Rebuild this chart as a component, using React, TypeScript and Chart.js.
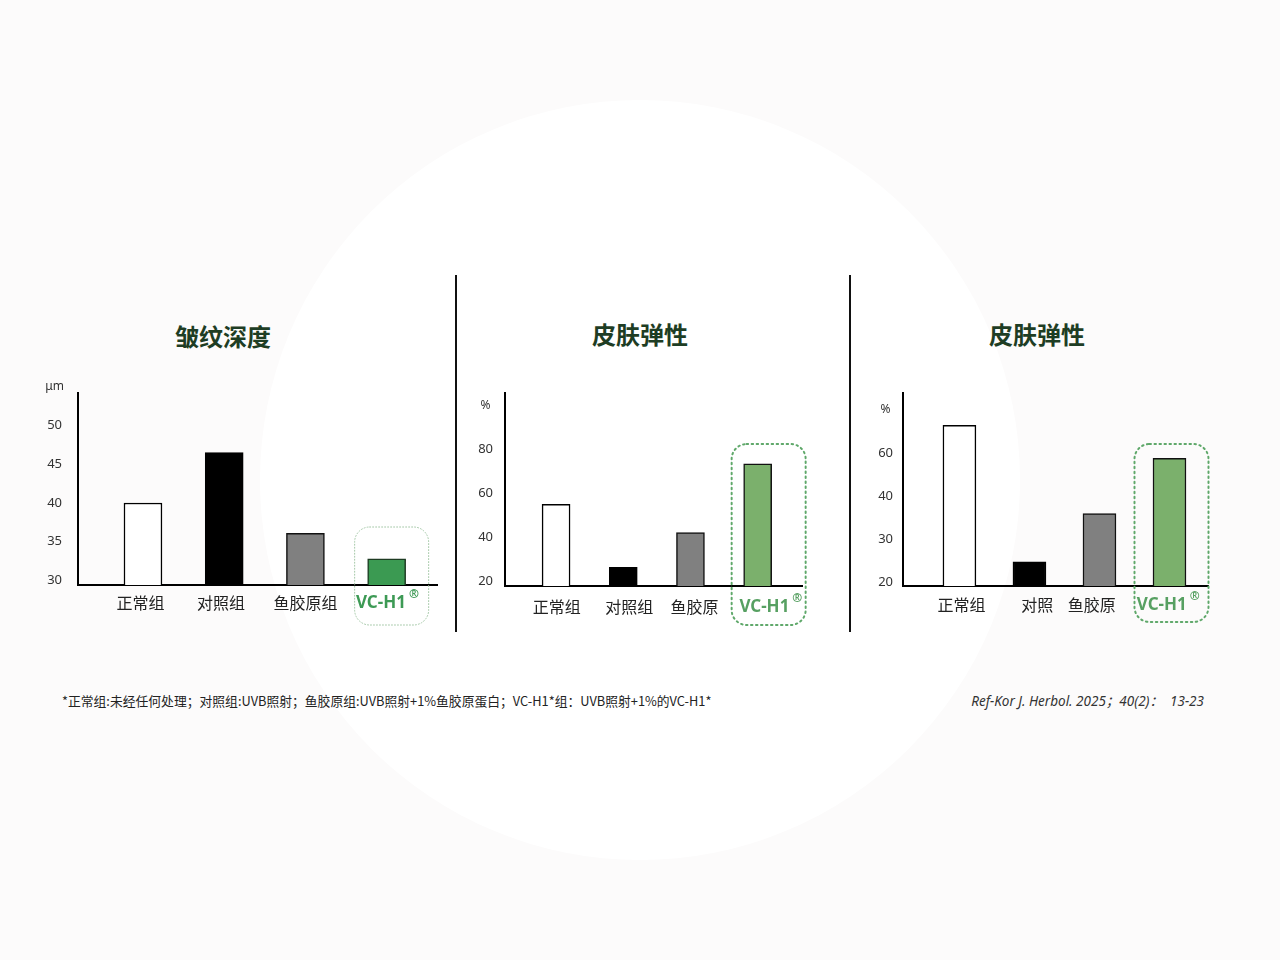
import React, { useEffect, useRef } from 'react';
import { Chart, registerables } from 'chart.js';

Chart.register(...registerables);

// ---- data ----
const groupsWrinkle = ['正常组', '对照组', '鱼胶原组', 'VC-H1'];
const groupsElasticA = ['正常组', '对照组', '鱼胶原', 'VC-H1'];
const groupsElasticB = ['正常组', '对照', '鱼胶原', 'VC-H1'];

const wrinkleDepth = [40, 46.5, 36.1, 32.8];
const elasticityA = [55, 26.4, 42.2, 73.4];
const elasticityB = [72.8, 24.7, 35.9, 57.4];

const ticksWrinkle = [30, 35, 40, 45, 50];
const ticksElasticA = [20, 40, 60, 80];
// the third panel labels equally spaced ticks 20/30/40/60
const ticksElasticB = [20, 30, 40, 60];

const LATIN = '"Noto Sans", "Noto Sans CJK SC", sans-serif';
const CJK = '"Noto Sans CJK SC", "Noto Sans", sans-serif';

// place a value on an axis whose ticks sit one step apart
function toAxis(v: number, ticks: number[]): number {
  for (let i = 0; i < ticks.length - 1; i++) {
    if (v <= ticks[i + 1]) return i + (v - ticks[i]) / (ticks[i + 1] - ticks[i]);
  }
  const n = ticks.length - 1;
  return n + (v - ticks[n]) / (ticks[n] - ticks[n - 1]);
}

const decorPlugin = {
  id: 'decor',
  afterDraw(chart: any, _args: any, opts: any) {
    const { ctx, chartArea, scales } = chart;
    const x = scales.x;
    const y = scales.y;
    ctx.save();

    // unit label above the ticks
    ctx.font = `13px ${LATIN}`;
    const w = Math.max(...opts.ticks.map((t: number) => ctx.measureText(String(t)).width));
    ctx.font = `12px ${LATIN}`;
    ctx.fillStyle = '#333';
    ctx.textAlign = 'center';
    ctx.textBaseline = 'middle';
    ctx.fillText(opts.unit, chartArea.left - opts.yPad - w / 2, y.getPixelForValue(opts.ticks.length));

    // registered mark after the last label
    const last = opts.count - 1;
    const px = x.getPixelForValue(last);
    const lx = x.getPixelForValue(last + opts.labelShift[last]);
    ctx.font = `bold 17px ${LATIN}`;
    const lw = ctx.measureText('VC-H1').width;
    const labelY = chartArea.bottom + opts.xPad + 10;
    ctx.font = `bold 12px ${LATIN}`;
    ctx.fillStyle = opts.green;
    ctx.textAlign = 'left';
    ctx.fillText('®', lx + lw / 2 + 3, labelY - 8);

    // dotted highlight box
    const b = opts.box;
    const l = px + b.left;
    const r = px + b.right;
    const t = chartArea.top + b.top;
    const btm = chartArea.bottom + b.bottom;
    ctx.strokeStyle = b.color;
    ctx.lineWidth = b.width;
    ctx.lineCap = 'round';
    ctx.setLineDash(b.dash);
    ctx.beginPath();
    ctx.roundRect(l, t, r - l, btm - t, 15);
    ctx.stroke();
    ctx.restore();
  },
};

interface PanelProps {
  categories: string[];
  values: number[];
  ticks: number[];
  unit: string;
  colors: string[];
  edge: string[];
  green: string;
  yRange: [number, number];
  xRange: [number, number];
  labelShift: number[];
  barThickness: number;
  yWidth: number;
  yPad: number;
  xPad: number;
  xHeight: number;
  box: { left: number; right: number; top: number; bottom: number; color: string; width: number; dash: number[] };
  frame: { left: number; top: number; width: number; height: number };
}

const BarPanel: React.FC<PanelProps> = (p) => {
  const chartRef = useRef<HTMLCanvasElement>(null);
  const chartInstance = useRef<Chart | null>(null);

  useEffect(() => {
    if (!chartRef.current) return;
    if (chartInstance.current) chartInstance.current.destroy();

    chartInstance.current = new Chart(chartRef.current, {
      type: 'bar',
      data: {
        datasets: [
          {
            data: p.values.map((v, i) => ({ x: i, y: toAxis(v, p.ticks) })),
            base: p.yRange[0],
            backgroundColor: p.colors,
            borderColor: p.edge,
            borderWidth: 1.5,
            borderSkipped: 'bottom',
            barThickness: p.barThickness,
          },
        ],
      },
      options: {
        animation: false,
        responsive: true,
        maintainAspectRatio: false,
        layout: { padding: { top: 13, right: 8, left: 0, bottom: 0 } },
        scales: {
          x: {
            type: 'linear',
            min: p.xRange[0],
            max: p.xRange[1],
            offset: false,
            grid: { display: false, drawTicks: false },
            border: { display: true, color: '#000', width: 2 },
            afterBuildTicks: (s: any) => {
              s.ticks = p.categories.map((_, i) => ({ value: i + p.labelShift[i] }));
            },
            afterFit: (s: any) => {
              s.height = p.xHeight;
              s.paddingLeft = 0;
              s.paddingRight = 0;
            },
            ticks: {
              autoSkip: false,
              maxRotation: 0,
              padding: p.xPad,
              callback: (_v: any, i: number) => p.categories[i],
              color: (c: any) => (c.index === p.categories.length - 1 ? p.green : '#222'),
              font: (c: any) =>
                c.index === p.categories.length - 1
                  ? { family: LATIN, size: 17, weight: 'bold' }
                  : { family: CJK, size: 16 },
            },
          },
          y: {
            min: p.yRange[0],
            max: p.yRange[1],
            grid: { display: false, drawTicks: false },
            border: { display: true, color: '#000', width: 2 },
            afterBuildTicks: (s: any) => {
              s.ticks = p.ticks.map((_, i) => ({ value: i }));
            },
            afterFit: (s: any) => {
              s.width = p.yWidth;
              s.paddingTop = 0;
              s.paddingBottom = 0;
            },
            ticks: {
              padding: p.yPad,
              color: '#333',
              font: { family: LATIN, size: 13 },
              callback: (v: any) => String(p.ticks[v]),
            },
          },
        },
        plugins: {
          legend: { display: false },
          tooltip: { enabled: false },
          decor: {
            unit: p.unit,
            ticks: p.ticks,
            count: p.categories.length,
            labelShift: p.labelShift,
            yPad: p.yPad,
            xPad: p.xPad,
            green: p.green,
            box: p.box,
          },
        } as any,
      },
      plugins: [decorPlugin],
    });

    return () => {
      if (chartInstance.current) {
        chartInstance.current.destroy();
        chartInstance.current = null;
      }
    };
  }, [p]);

  return (
    <div style={{ position: 'absolute', ...p.frame }}>
      <canvas ref={chartRef} />
    </div>
  );
};

const titleStyle = (cx: number, cy: number): React.CSSProperties => ({
  position: 'absolute',
  left: cx,
  top: cy,
  transform: 'translate(-50%, -50%)',
  fontFamily: CJK,
  fontWeight: 700,
  fontSize: 24,
  color: '#1e3d24',
  whiteSpace: 'nowrap',
});

const sepStyle = (x: number): React.CSSProperties => ({
  position: 'absolute',
  left: x,
  top: 275,
  width: 1.5,
  height: 357,
  background: '#111',
});

const panelWrinkle: PanelProps = {
  categories: groupsWrinkle,
  values: wrinkleDepth,
  ticks: ticksWrinkle,
  unit: 'μm',
  colors: ['#ffffff', '#000000', '#808080', '#3b9a52'],
  edge: ['#000', '#000', '#111', '#1d3b22'],
  green: '#3d9a55',
  yRange: [-0.116, 4.84],
  xRange: [-0.8, 3.62],
  labelShift: [-0.03, -0.04, 0, -0.07],
  barThickness: 38,
  yWidth: 48,
  yPad: 16,
  xPad: 8,
  xHeight: 51,
  box: { left: -32, right: 42, top: 134, bottom: 40, color: '#a5c8a8', width: 1, dash: [1, 2] },
  frame: { left: 30, top: 380, width: 415, height: 256 },
};

const panelElasticA: PanelProps = {
  categories: groupsElasticA,
  values: elasticityA,
  ticks: ticksElasticA,
  unit: '%',
  colors: ['#ffffff', '#000000', '#808080', '#7bb06c'],
  edge: ['#000', '#000', '#111', '#111'],
  green: '#57a062',
  yRange: [-0.107, 4.28],
  xRange: [-0.76, 3.66],
  labelShift: [0.01, 0.09, 0.06, 0.1],
  barThickness: 28,
  yWidth: 45,
  yPad: 12,
  xPad: 11,
  xHeight: 50,
  box: { left: -26, right: 48, top: 51, bottom: 39, color: '#5fa86a', width: 2, dash: [1.5, 3.5] },
  frame: { left: 460, top: 380, width: 350, height: 256 },
};

const panelElasticB: PanelProps = {
  categories: groupsElasticB,
  values: elasticityB,
  ticks: ticksElasticB,
  unit: '%',
  colors: ['#ffffff', '#000000', '#808080', '#7bb06c'],
  edge: ['#000', '#000', '#111', '#111'],
  green: '#57a062',
  yRange: [-0.093, 4.39],
  xRange: [-0.806, 3.55],
  labelShift: [0.03, 0.11, -0.11, -0.11],
  barThickness: 33,
  yWidth: 43,
  yPad: 10,
  xPad: 9,
  xHeight: 50,
  box: { left: -35, right: 39, top: 51, bottom: 36, color: '#5fa86a', width: 2, dash: [1.5, 3.5] },
  frame: { left: 860, top: 380, width: 356, height: 256 },
};

export default function App() {
  return (
    <div
      style={{
        position: 'fixed',
        left: 0,
        top: 0,
        width: 1280,
        height: 960,
        background: '#fcfbfb',
        overflow: 'hidden',
      }}
    >
      <div
        style={{
          position: 'absolute',
          left: 640 - 380,
          top: 480 - 380,
          width: 760,
          height: 760,
          borderRadius: '50%',
          background: '#ffffff',
        }}
      />
      <div style={titleStyle(223, 335)}>皱纹深度</div>
      <div style={titleStyle(640, 333)}>皮肤弹性</div>
      <div style={titleStyle(1037, 333)}>皮肤弹性</div>
      <div style={sepStyle(455)} />
      <div style={sepStyle(849)} />
      <BarPanel {...panelWrinkle} />
      <BarPanel {...panelElasticA} />
      <BarPanel {...panelElasticB} />
      <div
        style={{
          position: 'absolute',
          left: 62,
          top: 700,
          transform: 'translateY(-50%)',
          fontFamily: CJK,
          fontSize: 12.8,
          color: '#222',
          whiteSpace: 'nowrap',
        }}
      >
        *正常组:未经任何处理；对照组:UVB照射；鱼胶原组:UVB照射+1%鱼胶原蛋白；VC-H1*组：UVB照射+1%的VC-H1*
      </div>
      <div
        style={{
          position: 'absolute',
          right: 1280 - 1204,
          top: 700,
          transform: 'translateY(-50%)',
          fontFamily: LATIN,
          fontStyle: 'italic',
          fontSize: 13.5,
          color: '#333',
          whiteSpace: 'nowrap',
        }}
      >
        Ref-Kor J. Herbol. 2025；40(2)：&nbsp;&nbsp;13-23
      </div>
    </div>
  );
}
